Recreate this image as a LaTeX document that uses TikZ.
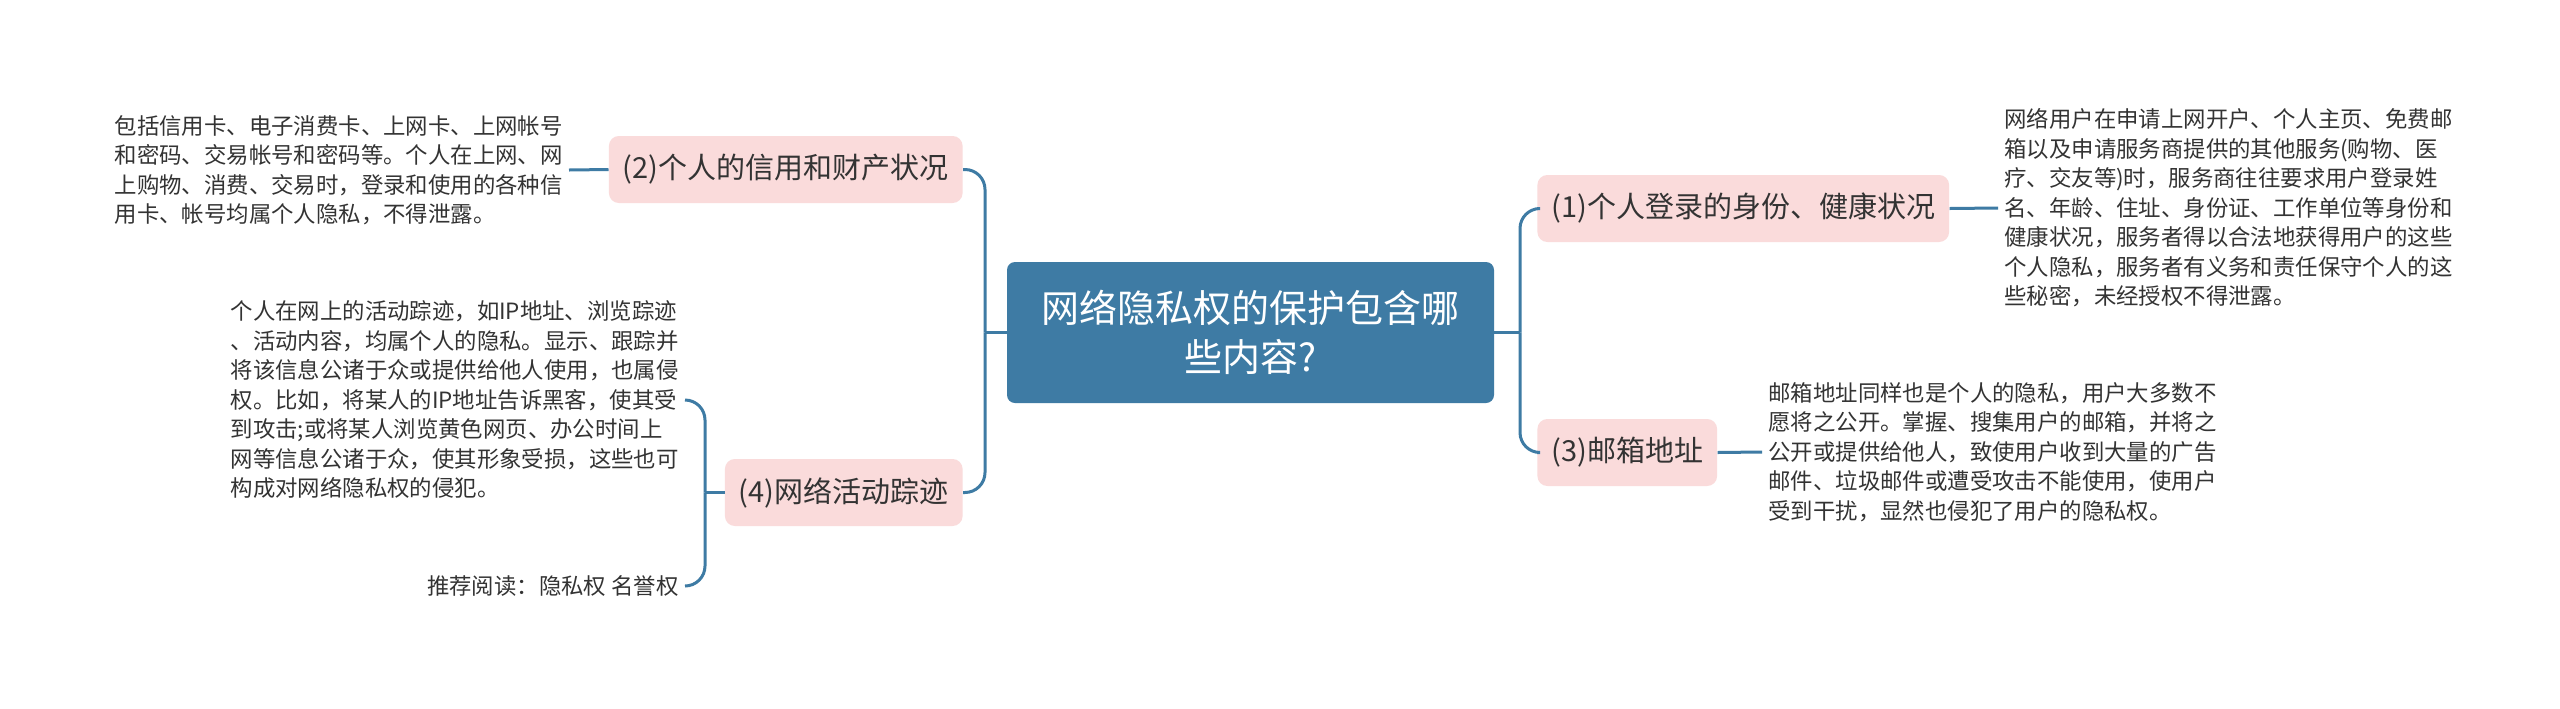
\documentclass[tikz,border=0pt]{standalone}
\usepackage{fontspec}
\setmainfont{Noto Sans CJK SC}
\usepackage{xcolor}
\usetikzlibrary{positioning}
\definecolor{mapblue}{HTML}{3E7BA4}
\definecolor{mappink}{HTML}{FADBDB}
\definecolor{mapink}{HTML}{333333}

\begin{document}
\begin{tikzpicture}[
    x=0.5pt,y=-0.5pt,
    core/.style  = {rectangle,rounded corners=4pt,fill=mapblue,text=white,align=center,
                    font=\fontsize{19}{24.5}\selectfont,minimum width=243.5pt,
                    minimum height=70.5pt,text width=215pt},
    topic/.style = {rectangle,rounded corners=5pt,fill=mappink,text=mapink,
                    font=\fontsize{14.5}{17}\selectfont,minimum height=33.5pt,inner xsep=7pt},
    note/.style  = {align=left,text=mapink,font=\fontsize{11.2}{14.75}\selectfont,inner sep=3pt},
    lnk/.style   = {draw=mapblue,line width=1.5pt,rounded corners=10pt},
  ]
  \useasboundingbox[fill=white] (0,0) rectangle (2560,708);

  \node[core] (hub) at (1250.5,332.5) {网络隐私权的保护包含哪\\些内容?};

  \node[topic,anchor=west] (b1) at (1537,208.5) {(1)个人登录的身份、健康状况};
  \node[topic,anchor=west] (b3) at (1537,452.5) {(3)邮箱地址};
  \node[topic,anchor=east] (b2) at (963,169.5)  {(2)个人的信用和财产状况};
  \node[topic,anchor=east] (b4) at (963,492.5)  {(4)网络活动踪迹};

  \node[note,anchor=west] (n1) at (1998,208) {网络用户在申请上网开户、个人主页、免费邮\\
    箱以及申请服务商提供的其他服务(购物、医\\疗、交友等)时，服务商往往要求用户登录姓\\
    名、年龄、住址、身份证、工作单位等身份和\\健康状况，服务者得以合法地获得用户的这些\\
    个人隐私，服务者有义务和责任保守个人的这\\些秘密，未经授权不得泄露。};
  \node[note,anchor=west] (n3) at (1762,452) {邮箱地址同样也是个人的隐私，用户大多数不\\
    愿将之公开。掌握、搜集用户的邮箱，并将之\\公开或提供给他人，致使用户收到大量的广告\\
    邮件、垃圾邮件或遭受攻击不能使用，使用户\\受到干扰，显然也侵犯了用户的隐私权。};
  \node[note,anchor=east] (n2) at (569,170) {包括信用卡、电子消费卡、上网卡、上网帐号\\
    和密码、交易帐号和密码等。个人在上网、网\\上购物、消费、交易时，登录和使用的各种信\\
    用卡、帐号均属个人隐私，不得泄露。};
  \node[note,anchor=east] (n4) at (685,400) {个人在网上的活动踪迹，如IP地址、浏览踪迹\\
    、活动内容，均属个人的隐私。显示、跟踪并\\将该信息公诸于众或提供给他人使用，也属侵\\
    权。比如，将某人的IP地址告诉黑客，使其受\\到攻击;或将某人浏览黄色网页、办公时间上\\
    网等信息公诸于众，使其形象受损，这些也可\\构成对网络隐私权的侵犯。};
  \node[note,anchor=east] (r4) at (685,586) {推荐阅读：隐私权 名誉权};

  % branch joints
  \coordinate (rj) at (1520,332.5);
  \coordinate (lj) at (985,332.5);
  \coordinate (j4) at (705,492.5);

  \draw[lnk] (hub.east) -- (rj);
  \draw[lnk] (rj) |- (b1.west);
  \draw[lnk] (rj) |- (b3.west);
  \draw[lnk] (hub.west) -- (lj);
  \draw[lnk] (lj) |- (b2.east);
  \draw[lnk] (lj) |- (b4.east);

  \draw[lnk] (b1.east) -- (n1.west);
  \draw[lnk] (b3.east) -- (n3.west);
  \draw[lnk] (b2.west) -- (n2.east);
  \draw[lnk] (b4.west) -- (j4);
  \draw[lnk] (j4) |- (n4.east);
  \draw[lnk] (j4) |- (r4.east);

\end{tikzpicture}
\end{document}
